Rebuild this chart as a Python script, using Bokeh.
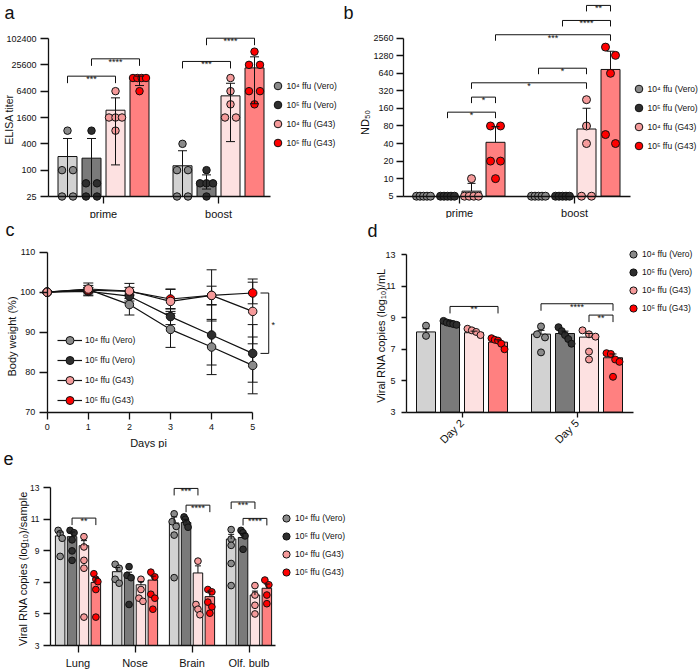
import math
from bokeh.plotting import figure
from bokeh.models import Range1d, FixedTicker, PrintfTickFormatter, Legend, LegendItem, Label
from bokeh.layouts import column, row
from bokeh.embed import file_html
from bokeh.resources import INLINE
from bokeh.core.properties import value

FONT = "Liberation Sans"
INK = "#111111"

# ---------------- data ----------------
series_labels = ["10⁴ ffu (Vero)", "10⁵ ffu (Vero)", "10⁴ ffu (G43)", "10⁵ ffu (G43)"]
bar_colors = ["#d2d2d2", "#7a7a7a", "#fde1e1", "#ff8080"]
point_colors = ["#8a8a8a", "#2e2e2e", "#f59a9a", "#ff0000"]

# (a) ELISA titer  rows = series, cols = prime / boost
a_cats = ["prime", "boost"]
a_ticks = [25, 100, 400, 1600, 6400, 25600, 102400]
a_mean = [[205, 126], [188, 54], [2350, 5000], [11100, 21800]]
a_hi = [[530, 278], [530, 78], [4500, 9700], [14100, 39000]]
a_lo = [[25, 25], [25, 37], [132, 450], [8600, 3300]]
a_pts = [
    [[800, 100, 100, 25, 25], [400, 100, 100, 25, 25]],
    [[800, 50, 50, 25, 25], [100, 50, 50, 50, 25]],
    [[6400, 1600, 1600, 1600, 800], [12800, 6400, 3200, 1600, 1600]],
    [[12800, 12800, 12800, 12800, 6400], [51200, 25600, 25600, 6400, 6400, 3200]],
]
a_sig = [(0, 0, 0, 2, 14100, "***"), (0, 1, 0, 3, 35100, "****"),
         (1, 0, 1, 2, 30600, "***"), (1, 1, 1, 3, 104000, "****")]

# (b) ND50
b_cats = ["prime", "boost"]
b_ticks = [5, 10, 20, 40, 80, 160, 320, 640, 1280, 2560]
b_mean = [[5, 5], [5, 5], [6.1, 71], [42, 745]]
b_hi = [[5, 5], [5, 5], [8.3, 161], [78, 1530]]
b_pts = [
    [[5, 5, 5, 5, 5], [5, 5, 5, 5, 5]],
    [[5, 5, 5, 5, 5], [5, 5, 5, 5, 5]],
    [[10, 5, 5, 5, 5], [226, 80, 40, 5, 5]],
    [[80, 80, 20, 20, 10], [1800, 1300, 640, 57, 40]],
]
b_sig = [(0, 1, 0, 3, 138, "*"), (0, 2, 0, 3, 250, "*"), (0, 2, 1, 2, 440, "*"),
         (1, 0, 1, 2, 783, "*"), (0, 3, 1, 3, 2935, "***"), (1, 1, 1, 3, 5157, "****"),
         (1, 2, 1, 3, 9340, "**")]

# (c) body weight
c_days = [0, 1, 2, 3, 4, 5]
c_ticks_x = [0, 1, 2, 3, 4, 5]
c_ticks_y = [70, 80, 90, 100, 110]
c_mean = [
    [100, 100.7, 96.9, 90.7, 86.3, 81.7],
    [100, 100.2, 99.0, 93.9, 89.3, 84.7],
    [100, 100.8, 100.3, 97.7, 99.2, 95.2],
    [100, 100.5, 100.2, 98.3, 99.2, 99.8],
]
c_sd = [
    [0, 1.6, 2.6, 4.5, 6.9, 7.1],
    [0, 0.9, 1.2, 2.0, 7.5, 7.2],
    [0, 0.9, 1.9, 3.0, 6.4, 8.1],
    [0, 0.7, 1.0, 2.5, 2.3, 2.7],
]

# (d) viral RNA in swabs
d_cats = ["Day 2", "Day 5"]
d_ticks = [3, 5, 7, 9, 11, 13]
d_mean = [[8.1, 7.96], [8.7, 8.0], [8.05, 7.77], [7.45, 6.46]]
d_hi = [[8.3, 8.2], [8.8, 8.15], [8.15, 8.0], [7.6, 6.7]]
d_pts = [
    [[8.5, 7.85], [8.45, 7.95, 7.75, 6.8]],
    [[8.8, 8.7, 8.65, 8.6, 8.55], [8.4, 8.15, 7.9, 7.65, 7.35]],
    [[8.3, 8.2, 8.1, 7.9], [8.2, 7.95, 7.8, 6.85, 6.35]],
    [[7.7, 7.6, 7.55, 7.35, 7.0], [6.75, 6.7, 6.35, 6.2, 5.25]],
]
d_sig = [(0, 1, 0, 3, 9.72, "**"), (1, 0, 1, 3, 9.89, "****"), (1, 2, 1, 3, 9.17, "**")]

# (e) viral RNA in tissues
e_cats = ["Lung", "Nose", "Brain", "Olf. bulb"]
e_ticks = [3, 5, 7, 9, 11, 13]
e_mean = [[9.95, 7.68, 10.77, 9.75], [9.9, 7.4, 10.8, 9.85],
          [9.33, 6.85, 7.6, 6.2], [7.0, 7.15, 6.1, 6.63]]
e_hi = [[10.2, 7.95, 11.15, 10.05], [10.2, 7.65, 11.0, 10.1],
        [9.65, 7.05, 8.05, 6.45], [7.3, 7.4, 6.45, 6.9]]
e_pts = [
    [[10.3, 10.1, 9.8, 8.65], [8.15, 7.9, 7.2, 6.95], [11.35, 10.85, 10.55, 10.0, 7.3], [10.35, 9.75, 9.35, 8.2, 6.8]],
    [[10.3, 10.15, 9.7, 9.0, 8.4], [8.0, 7.45, 7.3, 5.6], [11.15, 11.0, 10.75, 10.5], [10.3, 10.15, 9.95, 9.1]],
    [[9.9, 9.25, 8.4, 7.9, 4.8], [7.2, 6.55, 6.0, 5.8], [8.35, 5.6, 5.3, 4.95], [6.8, 6.2, 5.55, 5.0]],
    [[7.55, 7.2, 7.05, 6.55, 4.8], [7.65, 7.35, 6.25, 6.0, 5.3], [6.55, 6.4, 5.75, 5.45, 5.05], [7.15, 6.85, 6.2, 5.65]],
]
e_sig = [(0, 1, 0, 3, 11.08, "**"), (2, 0, 2, 2, 12.96, "***"), (2, 1, 2, 3, 11.9, "****"),
         (3, 0, 3, 2, 12.1, "***"), (3, 1, 3, 3, 11.06, "****")]


# ---------------- helpers ----------------
def y_mapping(anchors, log):
    (v1, p1), (v2, p2) = anchors
    f = math.log10 if log else (lambda v: v)
    k = (f(v2) - f(v1)) / (p2 - p1)

    def val_at(px):
        t = f(v1) + (px - p1) * k
        return 10 ** t if log else t

    def px_of(v):
        return p1 + (f(v) - f(v1)) / k
    return val_at, px_of


def new_fig(W, H, xr, yr, log):
    # the plotting frame covers the whole canvas; axes are placed at fixed data locations
    p = figure(width=W, height=H, x_range=Range1d(*xr), y_range=Range1d(*yr),
               y_axis_type="log" if log else "linear",
               output_backend="svg", toolbar_location=None,
               min_border_left=0, min_border_right=0, min_border_top=0, min_border_bottom=0)
    p.outline_line_color = None
    p.xgrid.visible = False
    p.ygrid.visible = False
    return p


def style_axis(ax, ticks, bounds, fixed, tick_out, standoff, font_size):
    ax.fixed_location = fixed
    ax.bounds = bounds
    ax.ticker = FixedTicker(ticks=ticks, minor_ticks=[])
    ax.axis_line_color = INK
    ax.axis_line_width = 1.3
    ax.major_tick_line_color = INK
    ax.major_tick_line_width = 1.3
    ax.major_tick_out = tick_out
    ax.major_tick_in = 0
    ax.minor_tick_line_color = None
    ax.major_label_standoff = standoff
    ax.major_label_text_font = FONT
    ax.major_label_text_font_size = font_size
    ax.major_label_text_color = INK


def add_text(p, H, fx, fy, text, size, angle=0.0, align="left", baseline="top"):
    p.add_layout(Label(x=fx, y=H - fy, x_units="screen", y_units="screen",
                       text=text, angle=angle, text_align=align, text_baseline=baseline,
                       text_font=FONT, text_font_size=size, text_color=INK))


def add_legend(p, renderers_per_item, H, box_left, cy, dy, gw, gh, standoff):
    items = [LegendItem(label=series_labels[s], renderers=renderers_per_item[s]) for s in range(4)]
    top = cy - gh / 2
    bottom = top + gh + 3 * dy
    lg = Legend(items=items, location=(box_left, H - bottom), orientation="vertical",
                glyph_width=gw, glyph_height=gh, label_height=gh, spacing=int(round(dy - gh)),
                padding=0, margin=0, label_standoff=standoff,
                label_text_font=FONT, label_text_font_size="8.5px", label_text_color=INK,
                border_line_color=None, background_fill_alpha=0)
    p.add_layout(lg)


def jitter(vals, px_of, thresh, max_sp, spread):
    n = len(vals)
    order = sorted(range(n), key=lambda i: -vals[i])
    clusters = []
    prev = None
    for i in order:
        py = px_of(vals[i])
        if clusters and abs(py - prev) < thresh:
            clusters[-1].append(i)
        else:
            clusters.append([i])
        prev = py
    offs = [0.0] * n
    for c in clusters:
        m = len(c)
        if m > 1:
            sp = min(max_sp, spread / (m - 1))
            for k, i in enumerate(c):
                offs[i] = (k - (m - 1) / 2) * sp
    return offs


def bar_panel(W, H, yax_px, gx0, sx, yanch, log, yticks, xend, cats, mean, hi, lo, pts, sig,
              bar_px, step_px, pt_size, cap_px, leg_px, jit, leg, ytk, xtk, orient=None):
    val_at, px_of = y_mapping(yanch, log)
    xr = ((0 - gx0) / sx, (W - gx0) / sx)
    yr = (val_at(H), val_at(0))
    p = new_fig(W, H, xr, yr, log)
    base = yticks[0]
    step = step_px / sx
    ng = len(cats)
    x_axis_at = (yax_px - gx0) / sx

    def bx(g, s):
        return g + (s - 1.5) * step

    for s in range(4):
        p.vbar(x=[bx(g, s) for g in range(ng)], top=mean[s], bottom=base, width=bar_px / sx,
               fill_color=bar_colors[s], line_color=INK, line_width=1)

    thresh, max_sp, spread = jit
    pt_r = []
    for s in range(4):
        xs, ys = [], []
        for g in range(ng):
            vals = pts[s][g]
            offs = jitter(vals, px_of, thresh, max_sp, spread)
            xs += [bx(g, s) + o / sx for o in offs]
            ys += list(vals)
        r = p.scatter(xs, ys, marker="circle", size=pt_size, fill_color=point_colors[s],
                      line_color=INK, line_width=1)
        pt_r.append([r])

    ex0, ey0, ex1, ey1 = [], [], [], []
    cw = cap_px / sx / 2
    for s in range(4):
        for g in range(ng):
            x = bx(g, s)
            m = mean[s][g]
            h = hi[s][g]
            l = lo[s][g] if lo is not None else m
            if h > m or l < m:
                ex0.append(x); ey0.append(l); ex1.append(x); ey1.append(h)
            if h > m:
                ex0.append(x - cw); ey0.append(h); ex1.append(x + cw); ey1.append(h)
            if lo is not None and l < m and l > base * 1.001:
                ex0.append(x - cw); ey0.append(l); ex1.append(x + cw); ey1.append(l)
    p.segment(ex0, ey0, ex1, ey1, line_color=INK, line_width=1)

    bx0, by0, bx1, by1 = [], [], [], []
    tx, ty, tt = [], [], []
    for g1, s1, g2, s2, yv, lab in sig:
        xa, xb = bx(g1, s1), bx(g2, s2)
        yl = val_at(px_of(yv) + leg_px)
        bx0 += [xa, xa, xb]; by0 += [yl, yv, yv]; bx1 += [xa, xb, xb]; by1 += [yv, yv, yl]
        tx.append((xa + xb) / 2); ty.append(yv); tt.append(lab)
    p.segment(bx0, by0, bx1, by1, line_color=INK, line_width=1)
    p.text(x=tx, y=ty, text=tt, text_font=value(FONT), text_font_size=value("9px"),
           text_align="center", text_baseline="alphabetic", y_offset=3, text_color=INK)

    xa_ = p.xaxis[0]
    style_axis(xa_, list(range(ng)), (x_axis_at, xend), base, xtk[0], xtk[1], xtk[2])
    xa_.major_label_overrides = {g: c for g, c in enumerate(cats)}
    if orient is not None:
        xa_.major_label_orientation = orient
    ya_ = p.yaxis[0]
    style_axis(ya_, yticks, (yticks[0], yticks[-1]), x_axis_at, ytk[0], ytk[1], ytk[2])
    if log:
        ya_.formatter = PrintfTickFormatter(format="%d")

    cx, cy, dy, G = leg
    add_legend(p, pt_r, H, cx - G / 2, cy, dy, G, G, 0)
    return p


H1, H2, H3 = 218, 230, 221

# ---------------- panel a ----------------
pa = bar_panel(340, H1, 48, 103, 115, [(25, 196), (102400, 38)], True, a_ticks, 1.452,
               a_cats, a_mean, a_hi, a_lo, a_pts, a_sig, 19, 24, 7.5, 9, 7, (10, 11, 13),
               (277, 97.7, 15, 19), (8, 4, "9px"), (7, 4, "11px"))
add_text(pa, H1, 4, 2, "a", "18px")
add_text(pa, H1, 8, 119, "ELISA titer", "10.5px", angle=math.pi / 2, align="center", baseline="middle")

# ---------------- panel b ----------------
pb = bar_panel(358, H1, 63, 119, 115, [(5, 195.7), (2560, 37.7)], True, b_ticks, 1.487,
               b_cats, b_mean, b_hi, None, b_pts, b_sig, 19, 24, 8, 8, 6, (9.5, 10, 14),
               (298, 100, 15.2, 19), (7, 3, "9px"), (7, 4, "11px"))
add_text(pb, H1, 3, 2, "b", "18px")
add_text(pb, H1, 24, 122, "ND₅₀", "11px", angle=math.pi / 2, align="center", baseline="middle")

# ---------------- panel c ----------------
Wc = 340
d0, dsx = 46.7, 41.1
val_c, px_c = y_mapping([(110, 33.7), (70, 193.7)], False)
pc = new_fig(Wc, H2, ((0 - d0) / dsx, (Wc - d0) / dsx), (val_c(H2), val_c(0)), False)
draw_order = [0, 1, 3, 2]
line_r = {}
for s in draw_order:
    line_r[s] = pc.line(c_days, c_mean[s], line_color=INK, line_width=1.2)
ex0, ey0, ex1, ey1 = [], [], [], []
cwc = 10 / dsx / 2
for s in draw_order:
    for d, m, sd in zip(c_days, c_mean[s], c_sd[s]):
        if sd > 0:
            ex0 += [d, d - cwc, d - cwc]; ey0 += [m - sd, m + sd, m - sd]
            ex1 += [d, d + cwc, d + cwc]; ey1 += [m + sd, m + sd, m - sd]
pc.segment(ex0, ey0, ex1, ey1, line_color=INK, line_width=1)
pt_c = {}
for s in draw_order:
    pt_c[s] = pc.scatter(c_days, c_mean[s], marker="circle", size=8.5, fill_color=point_colors[s],
                         line_color=INK, line_width=1)
# significance bracket at day 5 (10^5 Vero vs 10^5 G43)
bxa, bxb = 5.19, 5.39
pc.segment([bxa, bxb, bxa], [c_mean[3][5], c_mean[3][5], c_mean[1][5]],
           [bxb, bxb, bxb], [c_mean[3][5], c_mean[1][5], c_mean[1][5]], line_color=INK, line_width=1)
pc.text(x=[5.5], y=[(c_mean[3][5] + c_mean[1][5]) / 2], text=["*"], text_font=value(FONT),
        text_font_size=value("9px"), text_align="center", text_baseline="middle", y_offset=2, text_color=INK)
style_axis(pc.xaxis[0], c_ticks_x, (0, 5), 70, 7, 5, "9px")
style_axis(pc.yaxis[0], c_ticks_y, (70, 110), 0, 8, 4, "9px")
add_legend(pc, [[line_r[s], pt_c[s]] for s in range(4)], H2, 57, 133.7, 16, 25, 20, 3)
add_text(pc, H2, 5, 1, "c", "18px")
add_text(pc, H2, 148, 224, "Days pi", "11px", align="center", baseline="middle")
add_text(pc, H2, 11, 118, "Body weight (%)", "11px", angle=math.pi / 2, align="center", baseline="middle")

# ---------------- panel d ----------------
pd_ = bar_panel(358, H2, 66, 121.5, 115, [(13, 36.3), (3, 193.7)], False, d_ticks, 1.491,
                d_cats, d_mean, d_hi, None, d_pts, d_sig, 19, 24, 7, 7, 7, (7, 8, 13),
                (293, 43.7, 15.3, 18), (5, 6, "9px"), (5, 4, "11px"), orient=math.pi / 4)
add_text(pd_, H2, 27, 2, "d", "18px")
add_text(pd_, H2, 40, 117, "Viral RNA copies (log₁₀)/mL", "11px", angle=math.pi / 2,
         align="center", baseline="middle")

# ---------------- panel e ----------------
pe = bar_panel(420, H3, 50, 77.5, 57, [(13, 39.3), (3, 197)], False, e_ticks, 3.465,
               e_cats, e_mean, e_hi, None, e_pts, e_sig, 9.5, 11.9, 6.7, 6, 7, (6, 4, 4),
               (286, 81.3, 14.3, 18), (7, 4, "8.5px"), (7, 4, "11px"))
add_text(pe, H3, 3, 3, "e", "18px")
add_text(pe, H3, 22, 120, "Viral RNA copies (log₁₀)/sample", "11px", angle=math.pi / 2,
         align="center", baseline="middle")

layout = column(row(pa, pb), row(pc, pd_), pe)
open("out.html", "w").write(file_html(layout, INLINE))
